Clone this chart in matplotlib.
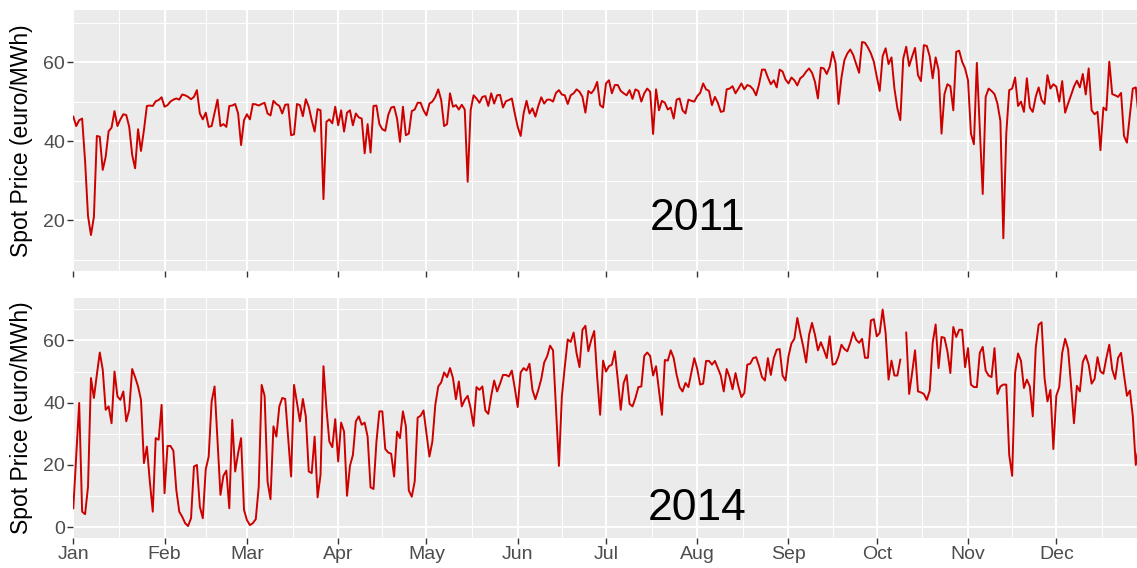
import numpy as np
import matplotlib
matplotlib.use("Agg")
import matplotlib.pyplot as plt

plt.rcParams['font.family'] = ['Liberation Sans', 'DejaVu Sans']

# daily spot prices (euro/MWh)
price_2011 = [
    # Jan
    46.2, 43.8, 45.3, 45.7, 35, 21, 16.2, 20.8, 41.3, 41.1, 32.7, 36, 42.5, 43.4, 47.6, 43.8,
    45.5, 46.8, 46.6, 43.6, 36.5, 33.1, 43, 37.5, 42.8, 48.9, 49, 48.9, 50.1, 50.4, 51.1,
    # Feb
    48.7, 49.1, 50, 50.5, 50.8, 50.5, 51.8, 51.6, 51.2, 50.6, 51.2, 52.9, 47, 45.5, 47.2, 43.6,
    43.8, 47.2, 50.5, 43.8, 44.3, 43.6, 48.9, 49, 49.4, 47, 39, 45.3,
    # Mar
    46.8, 45.5, 49.4, 49.3, 49, 49.4, 49.7, 47, 46.5, 50.2, 49.4, 48.9, 47, 49.2, 49.3, 41.5,
    41.7, 49.4, 49.1, 46.3, 50.6, 48.7, 45.3, 42.4, 48.1, 47.8, 25.3, 44.9, 45.5, 44.5, 48.7,
    # Apr
    44, 47.8, 42.4, 47.2, 47.8, 44, 47, 46, 45.7, 36.9, 44.3, 37.1, 48.9, 49, 44.3, 43,
    42.6, 46.6, 48.5, 48.7, 45.7, 39.8, 48.7, 41.5, 41.9, 47.6, 48, 49.7, 49.7, 47.8,
    # May
    46.5, 49.5, 50, 51.2, 53.1, 50.4, 43.8, 44.3, 52.1, 48.7, 49.1, 48, 49.2, 48, 29.7, 47.8,
    51.6, 50.8, 49.7, 51.2, 51.4, 48.9, 52.1, 49.5, 51.6, 51.7, 48.5, 50.1, 50.4, 50.8, 47,
    # Jun
    43.6, 41.3, 47, 50.2, 47, 48.3, 46.2, 48.9, 51.1, 49.5, 50.5, 50.5, 50, 52.2, 52.9, 51.8,
    51.6, 49.4, 51.6, 52.1, 53.1, 52.5, 51.2, 47.2, 52.7, 52.1, 53.1, 55, 49.1, 48.5,
    # Jul
    54.6, 55.4, 52.1, 54.2, 54.2, 52.7, 52.1, 51.6, 52.9, 50.7, 53.1, 52.7, 50, 52.1, 53.3, 52.5,
    41.8, 53.1, 47.8, 50.2, 49.7, 48, 48.5, 45.7, 50.5, 50.8, 47.8, 47, 50.5, 50.2, 50,
    # Aug
    51.4, 52.2, 54.6, 53.1, 52.7, 49.1, 51.2, 49.7, 47.4, 47.6, 53.1, 53.3, 53.9, 52.1, 53.3, 54.6,
    53.1, 54.2, 53.9, 53.1, 51.6, 54.4, 58.1, 58.1, 56.1, 54.4, 55.4, 53.6, 58.1, 57.6, 55.6,
    # Sep
    54.6, 56.1, 55.4, 54.1, 55.9, 56.5, 57.6, 58.4, 57.3, 55, 50.8, 58.6, 58.4, 57, 58.8, 62.6,
    59.7, 49.4, 56.1, 60.5, 62.2, 63.2, 61.8, 59.5, 57.3, 65.1, 64.9, 63.7, 62.2, 60.1,
    # Oct
    56.3, 52.7, 61.5, 63.5, 59.5, 61.2, 53.3, 48.3, 45.3, 60.9, 63.9, 59, 61.4, 63.6, 56.7, 55.2,
    64.3, 64.1, 61.4, 55.9, 61.2, 58, 41.9, 51.9, 54.4, 53.9, 47.8, 62.6, 62.9, 60.1, 58.4,
    # Nov
    55.4, 41.9, 39.2, 59.8, 43, 26.6, 51.2, 53.3, 52.7, 51.9, 49.5, 45.1, 15.4, 41.9, 52.9, 53.3,
    56.1, 48.9, 50, 47.4, 55.9, 48.5, 47.4, 51.2, 53.6, 50.4, 49.4, 56.7, 53.3, 54.4,
    # Dec
    53.8, 50, 55.2, 47.2, 49.5, 51.6, 53.8, 55.3, 53.6, 57, 51.8, 58.4, 47.8, 46.8, 47.4, 37.7,
    48.5, 47.8, 60.1, 51.9, 51.6, 51.2, 52.2, 41.3, 39.6, 46.6, 53.3, 53.6, 46, 45, 48,
]

price_2014 = [
    # Jan
    6.1, 23, 39.9, 5, 4.2, 13, 47.9, 41.5, 49, 56.1, 50.6, 37.7, 38.8, 33.4, 50, 42,
    40.9, 43.6, 34, 37.7, 50.8, 48.2, 45.2, 40.9, 20.6, 25.9, 14.7, 5, 28.6, 28.1, 39.3,
    # Feb
    10.9, 26.1, 26.1, 24.6, 12, 5, 3.4, 1.3, 0.4, 2.9, 19.5, 20, 6.6, 2.9, 18.6, 22.7,
    40.4, 45.2, 28.1, 10.4, 16.5, 18.2, 6.1, 34.5, 17.9, 23.8, 28.6, 5.6,
    # Mar
    2.3, 0.7, 1.3, 2.6, 13, 45.7, 42.2, 14.7, 9, 32.4, 29.1, 38.8, 41.5, 41.2, 28.6, 16.3,
    45.7, 40, 34, 41.2, 35.6, 17.9, 17.4, 29.1, 9.6, 16.8, 51.7, 38.2, 27.5, 25.7, 34.7,
    # Apr
    21.1, 33.6, 30.7, 10.1, 19.7, 23.2, 34, 35.6, 32.9, 33.6, 29.1, 12.8, 12.3, 27.5, 37.2, 37.2,
    25.1, 24, 23.6, 16.3, 30.7, 28.6, 37.2, 32.4, 11.8, 9.8, 14.7, 35.2, 35.8, 37.5,
    # May
    30.2, 22.7, 27.5, 39.3, 45.2, 46.5, 49.7, 48.2, 51.1, 47.9, 41.1, 46.8, 38.8, 40.9, 42.2, 38.2,
    32.5, 45, 44.1, 45.2, 37.5, 36.4, 42.2, 47.1, 43.6, 46.1, 48.9, 48.9, 48.4, 50.3, 44.7,
    # Jun
    38.6, 49.7, 51.1, 50.3, 52.5, 44.1, 41.1, 44.1, 47.6, 52.9, 54.9, 58.3, 56.8, 38, 19.7, 42,
    51.6, 60.3, 59.5, 62.5, 55.8, 51.4, 63.4, 64.7, 56.5, 60.2, 63, 48.2, 36.1, 53.5,
    # Jul
    50, 51.7, 52.2, 56.5, 47.4, 37.7, 46.3, 48.9, 39.6, 38.8, 41.5, 45, 45.2, 55, 56.1, 55,
    48.7, 51.7, 44, 36.1, 53.7, 53.5, 56.8, 54.3, 48.9, 45, 43.6, 46.3, 45, 49.7, 54.3,
    # Aug
    50.8, 45.8, 46.1, 53.4, 53.4, 52.2, 53.4, 51.1, 48.7, 43.6, 50.8, 48.2, 44.3, 49.5, 45.2, 41.8,
    43.1, 52.2, 52.5, 54.3, 54.6, 51.8, 48.2, 47.1, 54.3, 48.9, 54.3, 57, 57.2, 48.7, 47.1,
    # Sep
    54.9, 59, 60.5, 67.2, 62.4, 58.1, 52.9, 61.8, 65.6, 61.8, 56.8, 59.4, 57, 54.3, 61.3, 52.2,
    52.5, 54.9, 58.6, 57.2, 56.5, 59.2, 62.6, 60.2, 59.2, 60.5, 54.4, 54.4, 66.4, 66.8,
    # Oct (one missing day)
    61.3, 62.4, 69.9, 62.4, 47.4, 53.5, 48.7, 48.7, 53.8, np.nan, 62.5, 42.8, 49.5, 56.8, 43.6, 43.3,
    42.8, 40.9, 43.9, 59.2, 65.1, 51.1, 61.1, 60.8, 56.5, 49.5, 64.3, 61.1, 63.4, 63.4, 51.4,
    # Nov
    57.5, 45.8, 45, 45, 56, 57.9, 50.3, 48.7, 48.2, 57.5, 42.8, 45.2, 45.8, 45.8, 23.2, 16.5,
    49.5, 55.8, 53.4, 44.7, 47.4, 45.2, 35.6, 57.5, 65, 65.8, 47.9, 40.4, 44.1, 25.1,
    # Dec
    42.2, 45, 56, 60.5, 57.2, 45.8, 33.4, 45.4, 43.6, 53.1, 55.2, 52.2, 46.1, 47.6, 54.6, 50,
    49.3, 54.3, 58.6, 50.6, 47.6, 54.4, 56, 48.9, 42.2, 43.9, 35.6, 20, 26, 31, 29,
]

months = ['Jan', 'Feb', 'Mar', 'Apr', 'May', 'Jun', 'Jul', 'Aug', 'Sep', 'Oct', 'Nov', 'Dec']
month_len = [31, 28, 31, 30, 31, 30, 31, 31, 30, 31, 30, 31]

days = np.arange(365)
month_start = np.concatenate([[0], np.cumsum(month_len)])  # 13 values, last = 365
minor_x = (month_start[:-1] + month_start[1:]) / 2

W, H = 1137, 568
fig = plt.figure(figsize=(W / 100, H / 100), dpi=100)

left = 73.3 / W
width = (1144.6 - 73.3) / W
ax1 = fig.add_axes([left, 1 - 271 / H, width, (271 - 10) / H])
ax2 = fig.add_axes([left, 1 - 538 / H, width, (538 - 298) / H])

panels = [
    (ax1, price_2011, '2011', (7.1, 73.2), [20, 40, 60], 17.5, False),
    (ax2, price_2014, '2014', (-3.45, 73.6), [0, 20, 40, 60], 2.35, True),
]

for ax, data, year, ylim, yticks, ytext, show_months in panels:
    ax.set_facecolor('#EBEBEB')
    for s in ax.spines.values():
        s.set_visible(False)
    ax.plot(days, data, color='#CD0000', lw=1.4, zorder=3)
    ax.set_xlim(0, 364)
    ax.set_ylim(*ylim)

    ax.set_xticks(month_start[:-1])
    ax.set_xticks(minor_x, minor=True)
    ax.set_yticks(yticks)
    ax.set_yticks([10, 30, 50, 70], minor=True)
    ax.grid(which='major', color='white', lw=1.4, zorder=1)
    ax.grid(which='minor', color='white', lw=0.7, zorder=1)
    ax.set_axisbelow(True)

    ax.tick_params(which='major', length=4, width=1.0, color='#333333',
                   labelcolor='#4D4D4D', labelsize=14, pad=2)
    ax.tick_params(which='minor', length=0)
    if show_months:
        ax.set_xticklabels(months)
    else:
        ax.set_xticklabels([])

    ax.set_ylabel('Spot Price (euro/MWh)', fontsize=16.5, color='black')
    ax.yaxis.set_label_coords(-0.0375, 0.5)
    ax.text(212, ytext, year, ha='center', va='baseline', fontsize=32, color='black')

fig.savefig('out.png', dpi=100)
